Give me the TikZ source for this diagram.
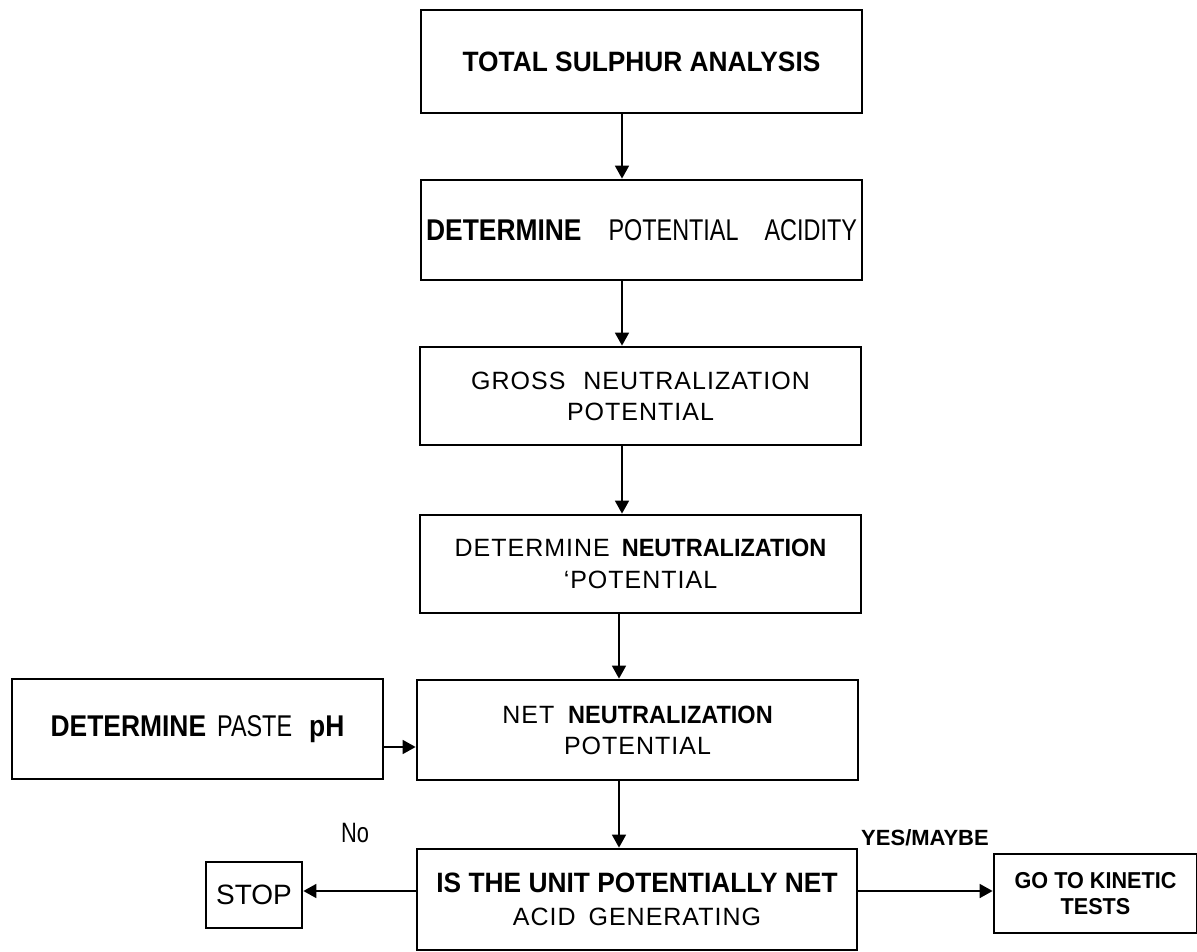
\documentclass[tikz,border=0pt]{standalone}
\usepackage{fontspec}
\setmainfont{Liberation Sans}
\newfontfamily\RN{Liberation Sans}[FakeStretch=0.78]
\newfontfamily\RS{Liberation Sans}[LetterSpace=4]
\newfontfamily\BN{Liberation Sans}[FakeStretch=0.94]
\newfontfamily\BC{Liberation Sans}[FakeStretch=0.88]
\usetikzlibrary{arrows.meta}
\newcommand\fsz[2]{\fontsize{#1}{#2}\selectfont}
\begin{document}
\begin{tikzpicture}[x=1pt,y=-1pt,
  box/.style={draw,line width=2.8pt,inner sep=0pt,align=center},
  arr/.style={line width=1.8pt,-{Triangle[length=13pt,width=14pt]}}]
\useasboundingbox[fill=white] (0,0) rectangle (1197,952);

\node[box,minimum width=441pt,minimum height=103pt,font=\BN\bfseries\fsz{28}{34}] (b1) at (641.5,61.5) {TOTAL SULPHUR ANALYSIS};

\node[box,minimum width=441pt,minimum height=100pt] (b2) at (641.5,230)
  {\BC\bfseries\fsz{30}{36}DETERMINE\hspace{27pt}\RN\mdseries POTENTIAL\hspace{26pt}ACIDITY};

\node[box,minimum width=441pt,minimum height=98pt,font=\RS\fsz{25}{31}] (b3) at (640.5,396)
  {GROSS\hspace{10pt} NEUTRALIZATION\\POTENTIAL};

\node[box,minimum width=441pt,minimum height=98pt,font=\RS\fsz{25}{32}] (b4) at (640.5,564)
  {DETERMINE\hspace{4pt} {\BN\bfseries NEUTRALIZATION}\\‘POTENTIAL};

\node[box,minimum width=441pt,minimum height=100pt,font=\RS\fsz{25}{31}] (b5) at (637.5,730)
  {NET\hspace{6pt} {\BN\bfseries NEUTRALIZATION}\\POTENTIAL};

\node[box,minimum width=440pt,minimum height=101pt,font=\RS\fsz{25}{33}] (b6) at (637,899.5)
  {{\BN\bfseries\fsz{28}{33}IS THE UNIT POTENTIALLY NET}\\ACID\hspace{5pt} GENERATING};

\node[box,minimum width=371pt,minimum height=100pt] (paste) at (197.5,729)
  {\BC\bfseries\fsz{30}{36}DETERMINE\hspace{11pt}\RN\mdseries PASTE\hspace{17pt}\BC\bfseries pH};

\node[box,minimum width=96pt,minimum height=66pt,font=\fsz{28}{34}] (stop) at (254,895) {STOP};

\node[box,minimum width=203pt,minimum height=79pt,font=\BN\bfseries\fsz{23}{26}] (kin) at (1095.5,893.5)
  {GO TO KINETIC\\TESTS};

\node[font=\RN\fsz{28}{34},inner sep=0pt] (no) at (355,833) {No};
\node[font=\bfseries\fsz{22}{26},inner sep=0pt] (yes) at (925,838) {YES/MAYBE};

\draw[arr] (622,0 |- b1.south) -- (622,0 |- b2.north);
\draw[arr] (622,0 |- b2.south) -- (622,0 |- b3.north);
\draw[arr] (622,0 |- b3.south) -- (622,0 |- b4.north);
\draw[arr] (619,0 |- b4.south) -- (619,0 |- b5.north);
\draw[arr] (619,0 |- b5.south) -- (619,0 |- b6.north);
\draw[arr] (paste.east |- 0,747) -- (b5.west |- 0,747);
\draw[arr] (b6.west |- 0,891) -- (stop.east |- 0,891);
\draw[arr] (b6.east |- 0,891) -- (kin.west |- 0,891);
\end{tikzpicture}
\end{document}
